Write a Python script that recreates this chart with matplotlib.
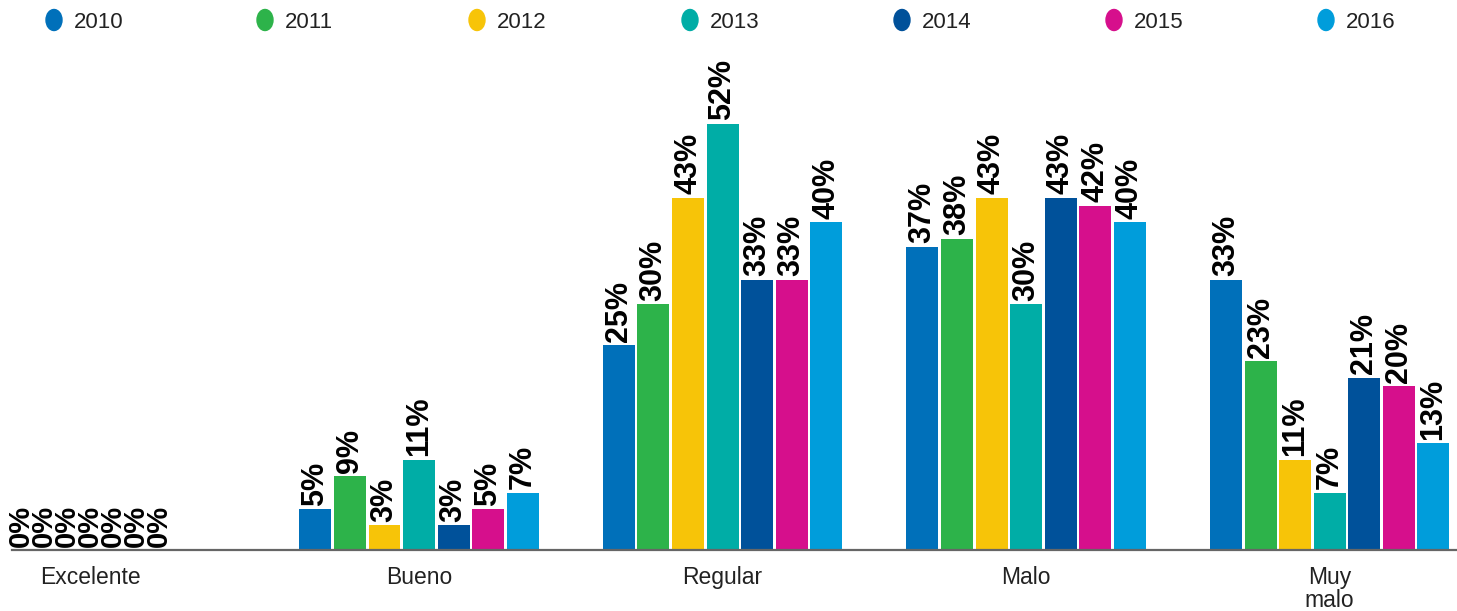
import numpy as np
import matplotlib.pyplot as plt
from matplotlib.patches import Ellipse

# datos (porcentajes por anio y categoria)
categorias = ['Excelente', 'Bueno', 'Regular', 'Malo', 'Muy\nmalo']
anios = ['2010', '2011', '2012', '2013', '2014', '2015', '2016']
excelente = [0, 0, 0, 0, 0, 0, 0]
bueno = [5, 9, 3, 11, 3, 5, 7]
regular = [25, 30, 43, 52, 33, 33, 40]
malo = [37, 38, 43, 30, 43, 42, 40]
muy_malo = [33, 23, 11, 7, 21, 20, 13]

colores = ['#0070BA', '#2DB34A', '#F7C408', '#00ADA6', '#00519A', '#D60F8C', '#009DDB']

W, H = 1457, 611
fig = plt.figure(figsize=(W / 100, H / 100), dpi=100)
ax = fig.add_axes([12 / W, 61 / H, 1 - 12 / W, 500 / H])

valores = np.array([excelente, bueno, regular, malo, muy_malo])  # categoria x anio
xpos = np.array([-0.084, 1, 2, 3, 4])
paso = 0.1137
ancho = 0.1054
paso_cero = 0.0758  # las etiquetas de 0% estan mas juntas

for j, (anio, c) in enumerate(zip(anios, colores)):
    for i, x0 in enumerate(xpos):
        v = valores[i, j]
        if v > 0:
            x = x0 + (j - 3) * paso
            ax.bar(x, v, width=ancho, color=c, zorder=2)
            fs = 22
        else:
            x = x0 + (j - 3) * paso_cero
            fs = 21
        ax.annotate(f'{v}%', (x, v), xytext=(0, 2.5), textcoords='offset points',
                    rotation=90, ha='center', va='bottom', fontsize=fs,
                    fontweight='bold', family=['Liberation Sans', 'DejaVu Sans'],
                    color='black')

ax.set_xlim(-0.341, 4.420)
ax.set_ylim(0, 61)
for s in ['top', 'right', 'left']:
    ax.spines[s].set_visible(False)
ax.spines['bottom'].set_color('#666666')
ax.spines['bottom'].set_linewidth(1.6)
ax.spines['bottom'].set_zorder(3)
ax.set_yticks([])
ax.set_xticks(xpos)
ax.set_xticklabels(categorias, fontsize=16.5, color='#222222',
                   family=['Liberation Sans', 'DejaVu Sans'], linespacing=0.98)
ax.tick_params(axis='x', length=0, pad=11.5)

# leyenda manual en la parte superior
lax = fig.add_axes([0, 0, 1, 1], zorder=5)
lax.set_xlim(0, W)
lax.set_ylim(H, 0)
lax.axis('off')
lx = [54, 265, 477, 690, 902, 1114, 1326]
for x, anio, c in zip(lx, anios, colores):
    lax.add_patch(Ellipse((x, 20), 16, 21, color=c))
    lax.text(x + 20, 22, anio, fontsize=16, va='center', ha='left', color='#222222',
             family=['Liberation Sans Narrow', 'Liberation Sans', 'DejaVu Sans'])

fig.savefig('out.png', dpi=100)
